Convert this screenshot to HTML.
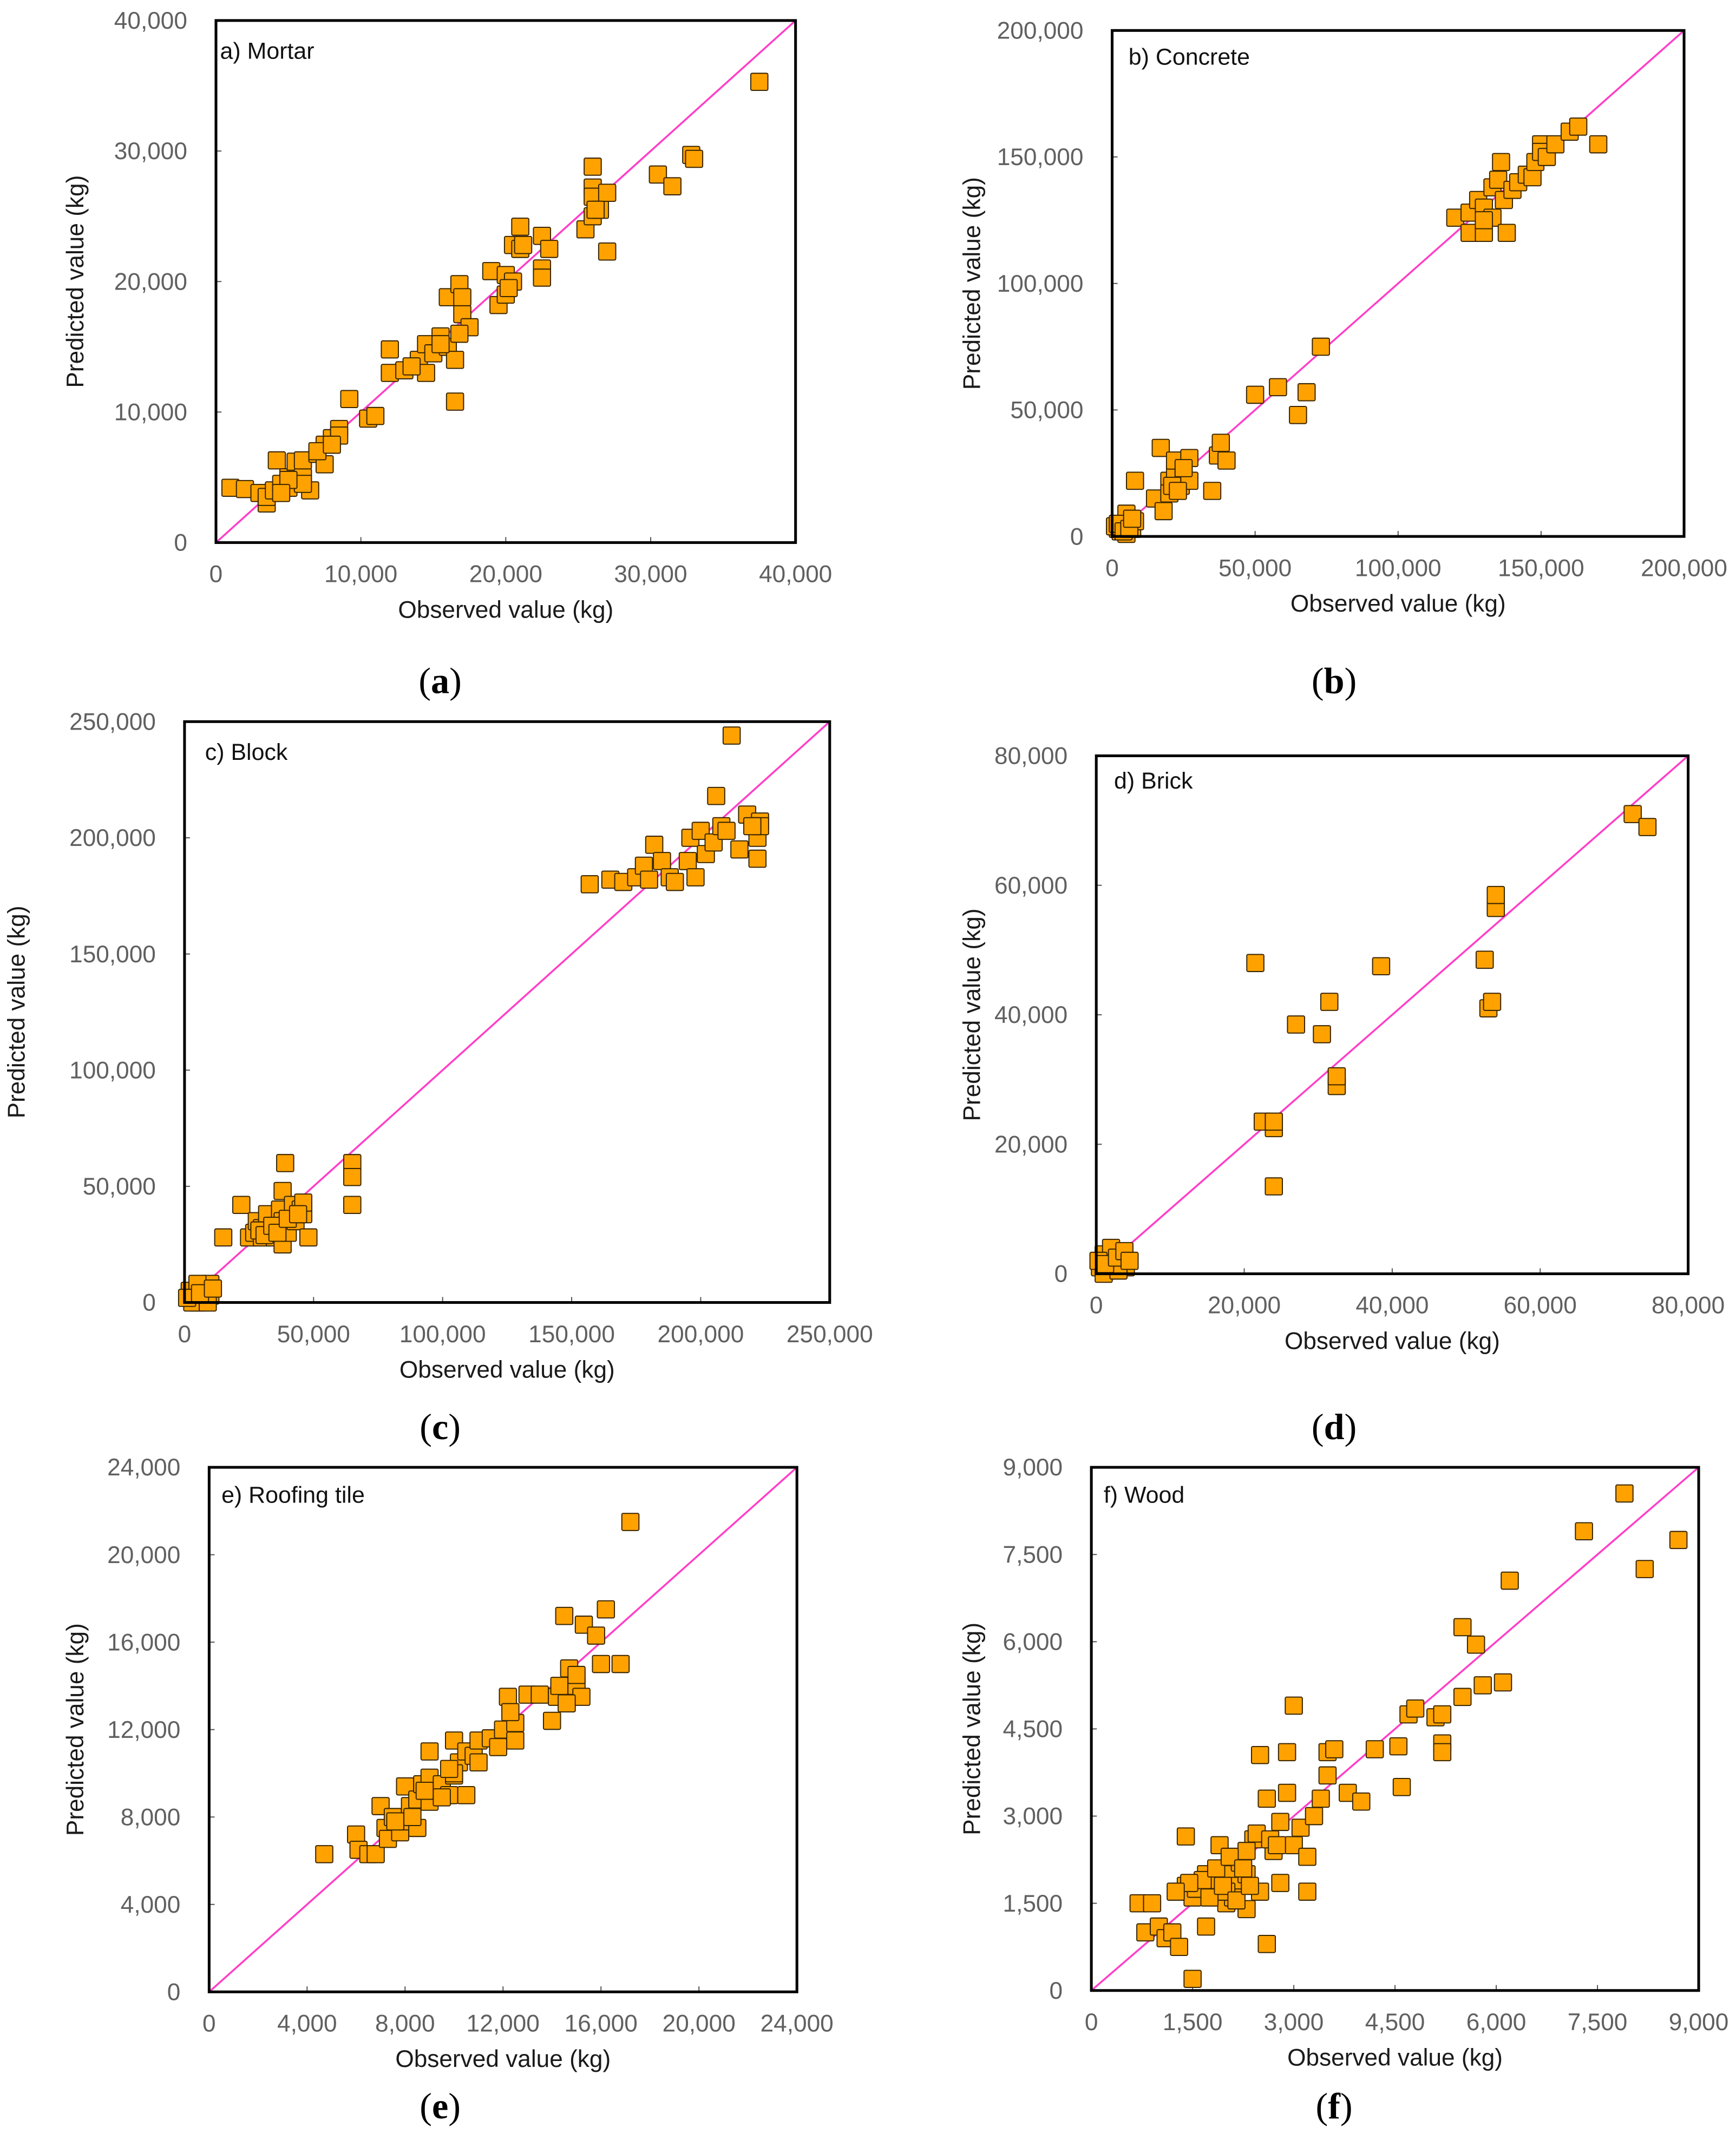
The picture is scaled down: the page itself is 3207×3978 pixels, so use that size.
<!DOCTYPE html>
<html><head><meta charset="utf-8"><title>Observed vs predicted</title>
<style>
html,body{margin:0;padding:0;background:#fff;}
svg{display:block;}
.tick{font-family:"Liberation Sans",sans-serif;font-size:17.5px;fill:#606060;}
.atitle{font-family:"Liberation Sans",sans-serif;font-size:17.5px;fill:#1a1a1a;}
.plabel{font-family:"Liberation Sans",sans-serif;font-size:17px;fill:#111;}
.cap{font-family:"Liberation Serif",serif;font-size:27px;fill:#000;}
</style></head>
<body>
<svg id="fig" width="3207" height="3978" viewBox="0 0 1270 1575.3" preserveAspectRatio="none" xmlns="http://www.w3.org/2000/svg"></svg>
<script>
// ---------- data (kg thousands) ----------
const mortarX=[1,2,3,3.5,3.5,4,4.2,4.5,5,5,5.5,5.5,6,6,6.5,7,7.5,7.5,8,8.5,8.5,9.2,10.5,11,12,12,13,14,14.5,15,15.5,16,16,16.5,16.5,16.8,17,17,17.5,19,19.5,20,20,20.5,20.5,21,21,22.5,22.5,22.5,23,25.5,26,26,26,26,26.5,27,27,30.5,31.5,32.8,33,37.5,14.5,13.5,6,7,5,4.5,15.5,16.8,20.2,21.2,26.2,8];
const mortarY=[4.2,4.1,3.8,3,3.5,4,6.3,4.5,4.2,5,5.5,6.2,5,6.3,4,6.8,6,7.5,8,8.7,8.2,11,9.5,9.7,13,14.8,13.2,14,15.2,14.5,15.8,15,18.8,14,10.8,19.8,17.5,18.8,16.5,20.8,18.2,20.5,19,20,22.8,24.2,22.5,21,20.3,23.5,22.5,24,25,27.2,28.8,26.5,25.5,26.8,22.3,28.2,27.3,29.7,29.4,35.3,13,13.5,4.5,7,4.8,3.8,15.2,16,19.5,22.8,25.5,7.5];
const concreteX=[2,3,4,5,6,7,8,5,3,8,15,17,18,20,20,22,22,24,25,27,27,35,37,38,40,50,58,65,68,73,120,125,125,128,130,130,133,133,135,136,137,138,140,142,145,147,148,150,150,152,155,160,163,170,130,1,2,4,6,7,21,23,25];
const concreteY=[3,2,4,9,5,3,6,1,5,22,15,35,10,22,17,25,30,20,24,22,31,18,32,37,30,56,59,48,57,75,126,120,128,133,120,130,138,126,141,148,133,120,137,140,143,142,148,155,152,150,155,160,162,155,125,4,5,2,3,7,20,18,27];
const blockX=[2,3,5,8,10,10,5,3,9,15,22,25,27,28,30,30,32,33,35,35,37,38,38,38,39,40,42,43,45,46,46,48,65,65,65,157,165,170,175,178,180,182,185,188,190,195,196,198,200,202,205,206,208,210,212,215,218,222,222,223,223,220,1,6,11,29,31,34,36,40,44];
const blockY=[5,2,0,5,8,3,8,0,0,28,42,28,30,35,32,28,38,30,33,28,40,25,35,48,60,30,42,35,40,38,43,28,60,54,42,180,182,181,183,188,182,197,190,183,181,190,200,183,203,193,198,218,205,203,244,195,210,191,200,207,205,205,2,4,6,31,29,33,30,36,38];
const brickX=[0.5,1,1.5,2,2.5,3,3.5,4,1,2,3,21.5,22.5,24,24,24,27,30.5,31.5,32.5,32.5,38.5,52.5,53,53.5,54,54,72.5,74.5,0.3,1.2,2.8,3.8,4.5];
const brickY=[1,3,0.5,2,1,3,2,1,0,4,0.5,48,23.5,22.5,23.5,13.5,38.5,37,42,29,30.5,47.5,48.5,41,42,56.5,58.5,71,69,2,1.5,2.5,3.5,2];
const tileX=[4.7,6,6.1,6.5,6.8,7,7.2,7.3,7.5,7.8,8,8,8.2,8.5,8.5,8.7,9,9,9,9.3,9.5,9.8,10,10,10.2,10.5,10.5,10.8,11,11.5,11.8,12,12.2,12.5,12.5,13,13.5,14,14.2,14.3,14.5,14.7,15,15,15.2,15.3,15.8,16,16.2,16.8,17.2,11,10,8.3,9.5,7.6,8.8,9.8,12.3,14.6];
const tileY=[6.3,7.2,6.5,6.3,6.3,8.5,7.5,7.0,8,7.3,9.4,7.8,8.5,8.8,7.5,9.5,9.8,11,8.7,9.2,9.5,9.0,9.9,11.5,10.5,11,9,10.8,11.5,11.6,11.2,12,13.5,12.3,11.5,13.6,13.6,12.4,13.5,14,17.2,14.8,14,14.5,13.5,16.8,16.3,15,17.5,15,21.5,10.5,10,8.0,8.9,7.8,9.2,10.2,12.8,13.2];
const woodX=[0.7,0.8,0.9,1.0,1.1,1.2,1.3,1.3,1.4,1.4,1.5,1.5,1.6,1.7,1.7,1.8,1.9,2.0,2.0,2.1,2.2,2.3,2.3,2.4,2.5,2.5,2.6,2.6,2.7,2.8,2.8,2.9,2.9,3.0,3.0,3.1,3.2,3.2,3.3,3.4,3.5,3.5,3.6,3.8,4.0,4.2,4.55,4.6,4.7,4.8,5.1,5.2,5.2,5.2,5.5,5.5,5.7,5.8,6.1,6.2,7.3,7.9,8.2,8.7,2.1,2.3,1.8,2.0,1.55,1.65,1.75,1.85,1.95,2.05,2.15,2.25,2.35,2.45,2.65,2.75,1.45,1.25];
const woodY=[1.5,1.0,1.5,1.1,0.9,1.0,1.7,0.75,2.65,1.8,1.6,0.2,1.8,2.0,1.1,1.7,2.5,2.0,1.5,1.8,2.2,1.4,2.0,2.6,4.05,1.7,3.3,0.8,2.4,2.9,1.85,4.1,3.4,4.9,2.5,2.8,2.3,1.7,3.0,3.3,3.7,4.1,4.15,3.4,3.25,4.15,4.2,3.5,4.75,4.85,4.7,4.75,4.25,4.1,5.05,6.25,5.95,5.25,5.3,7.05,7.9,8.55,7.25,7.75,1.6,2.4,1.9,1.7,1.75,1.9,1.6,2.1,1.8,2.3,1.55,2.1,1.8,2.7,2.6,2.5,1.85,1.7];

const xTicksA=[0,10,20,30,40], tickLabA=["0","10,000","20,000","30,000","40,000"];
const xTicksB=[0,50,100,150,200], tickLabB=["0","50,000","100,000","150,000","200,000"];
const xTicksC=[0,50,100,150,200,250], tickLabC=["0","50,000","100,000","150,000","200,000","250,000"];
const xTicksD=[0,20,40,60,80], tickLabD=["0","20,000","40,000","60,000","80,000"];
const xTicksE=[0,4,8,12,16,20,24], tickLabE=["0","4,000","8,000","12,000","16,000","20,000","24,000"];
const xTicksF=[0,1.5,3,4.5,6,7.5,9], tickLabF=["0","1,500","3,000","4,500","6,000","7,500","9,000"];

const NS="http://www.w3.org/2000/svg";
const fig=document.getElementById('fig');
function mk(tag,attrs,parent,txt){const e=document.createElementNS(NS,tag);for(const k in attrs)e.setAttribute(k,attrs[k]);if(txt!==undefined)e.textContent=txt;(parent||fig).appendChild(e);return e;}

function panel(p){
  const g=mk('g',{});
  
  
  const sx=v=>p.L+(v/p.max)*(p.R-p.L);
  const sy=v=>p.B-(v/p.max)*(p.B-p.T);
  p.ticks.forEach((t,i)=>{
    mk('line',{x1:sx(t),x2:sx(t),y1:p.B,y2:p.B-4,stroke:'#555','stroke-width':0.8},g);
    mk('line',{x1:p.L,x2:p.L+4,y1:sy(t),y2:sy(t),stroke:'#555','stroke-width':0.8},g);
    const xl=mk('text',{x:sx(t),y:p.B+29,'text-anchor':'middle',class:'tick'},g,p.labels[i]);
    
    
    const yl=mk('text',{x:p.L-21,y:sy(t)+6,'text-anchor':'end',class:'tick'},g,p.labels[i]);
    
    
  });
  const d=mk('line',{x1:sx(0),y1:sy(0),x2:sx(p.max),y2:sy(p.max),stroke:'#ff3fc8','stroke-width':1.4},g);
  
  
  const s=12.5;
  p.xs.forEach((x,i)=>{
    const r=mk('rect',{x:sx(x)-s/2,y:sy(p.ys[i])-s/2,width:s,height:s,rx:1,fill:'#ffa200',stroke:'#3a2600','stroke-width':0.8},g);
    
    
  });
  const f=mk('rect',{x:p.L,y:p.T,width:p.R-p.L,height:p.B-p.T,fill:'none',stroke:'#000','stroke-width':2},g);
  
  
  const pl=mk('text',{x:p.L+p.lx,y:p.T+p.ly,class:'plabel'},g,p.title);
  
  
  const xt=mk('text',{x:(p.L+p.R)/2,y:p.B+55,'text-anchor':'middle',class:'atitle'},g,'Observed value (kg)');
  
  
  const yx=p.yt, yy=(p.T+p.B)/2;
  const yt=mk('text',{x:yx,y:yy,'text-anchor':'middle',class:'atitle',transform:'rotate(-90 '+yx+' '+yy+')'},g,'Predicted value (kg)');
  
  
  const c=mk('text',{x:p.cx,y:p.cy,'text-anchor':'middle',class:'cap'},g);
  
  
  mk('tspan',{},c,'(');
  mk('tspan',{'font-weight':'bold'},c,p.id);
  mk('tspan',{},c,')');
}

panel({id:'a',title:'a) Mortar',L:158,R:582,T:15,B:397,max:40,xs:mortarX,ys:mortarY,ticks:xTicksA,labels:tickLabA,lx:3,ly:28,yt:61,cx:322,cy:507});
panel({id:'b',title:'b) Concrete',L:813.6,R:1232,T:22.3,B:392.5,max:200,xs:concreteX,ys:concreteY,ticks:xTicksB,labels:tickLabB,lx:12,ly:25,yt:717,cx:976,cy:507});
panel({id:'c',title:'c) Block',L:135,R:607,T:528,B:953,max:250,xs:blockX,ys:blockY,ticks:xTicksC,labels:tickLabC,lx:15,ly:28,yt:18,cx:322,cy:1053});
panel({id:'d',title:'d) Brick',L:802,R:1235,T:553,B:932,max:80,xs:brickX,ys:brickY,ticks:xTicksD,labels:tickLabD,lx:13,ly:24,yt:717,cx:976,cy:1053});
panel({id:'e',title:'e) Roofing tile',L:153,R:583,T:1073.6,B:1457.4,max:24,xs:tileX,ys:tileY,ticks:xTicksE,labels:tickLabE,lx:9,ly:26,yt:61,cx:322,cy:1550});
panel({id:'f',title:'f) Wood',L:798.4,R:1242.7,T:1073.6,B:1456.4,max:9,xs:woodX,ys:woodY,ticks:xTicksF,labels:tickLabF,lx:9,ly:26,yt:717,cx:976,cy:1550});
</script>
</body></html>
